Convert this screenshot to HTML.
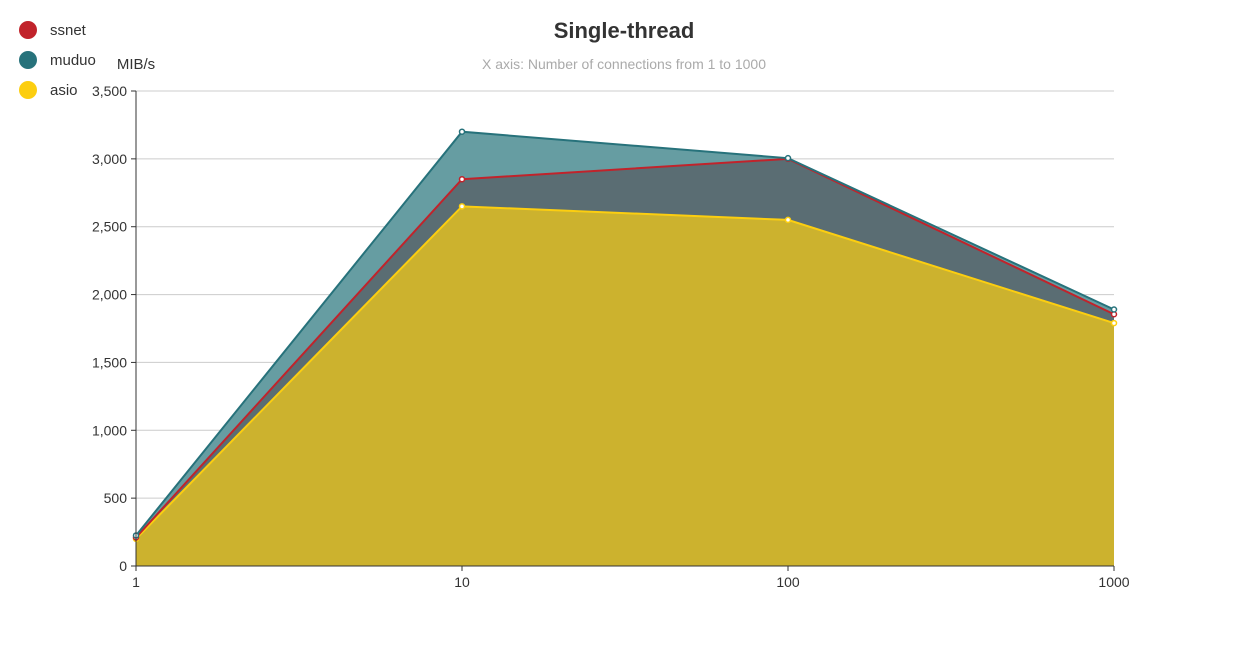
<!DOCTYPE html>
<html><head><meta charset="utf-8"><style>
body{margin:0;background:#fff;font-family:"Liberation Sans",sans-serif}
svg text{font-family:"Liberation Sans",sans-serif}
</style></head><body>
<svg id="c" width="1238" height="659"></svg>
<script>
const categories=["1","10","100","1000"];
const ssnet=[210,2850,3000,1855];
const muduo=[225,3200,3005,1890];
const asio=[200,2650,2550,1790];
const yTicks=[0,500,1000,1500,2000,2500,3000,3500];
const yLabels=["0","500","1,000","1,500","2,000","2,500","3,000","3,500"];
const NS="http://www.w3.org/2000/svg";
const svg=document.getElementById('c');
const X0=136,X1=1114,Y0=566,Y1=91,YMAX=3500;
const xs=i=>X0+(X1-X0)*i/(categories.length-1);
const ys=v=>Y0-(Y0-Y1)*v/YMAX;
function mk(t,a,p){const e=document.createElementNS(NS,t);for(const k in a)e.setAttribute(k,a[k]);(p||svg).appendChild(e);return e;}
function txt(s,a){const e=mk('text',a);e.textContent=s;return e;}
yTicks.forEach((v,i)=>{
 if(v>0){const g=mk('line',{x1:X0,x2:X1,y1:ys(v),y2:ys(v),stroke:'#ccc'});
 
 }
 const tk=mk('line',{x1:X0-5,x2:X0,y1:ys(v),y2:ys(v),stroke:'#333'});
 
 
 const t=txt(yLabels[i],{x:X0-9,y:ys(v)+5,'text-anchor':'end','font-size':14,fill:'#333'});
 
 
});
const series=[{n:'muduo',d:muduo,c:'#27727b',f:'#669da2'},{n:'ssnet',d:ssnet,c:'#c1232b',f:'#5a6d73'},{n:'asio',d:asio,c:'#fcce10',f:'#ccb22e'}];
series.forEach(s=>{
 let pts=s.d.map((v,i)=>xs(i)+','+ys(v)).join(' ');
 const a=mk('polygon',{points:X0+','+Y0+' '+pts+' '+X1+','+Y0,fill:s.f});
 
 
});
series.slice().reverse().forEach(s=>{
 let pts=s.d.map((v,i)=>xs(i)+','+ys(v)).join(' ');
 const l=mk('polyline',{points:pts,fill:'none',stroke:s.c,'stroke-width':2});
 
 
 s.d.forEach((v,i)=>{const p=mk('circle',{cx:xs(i),cy:ys(v),r:2.5,fill:'#fff',stroke:s.c,'stroke-width':1.5});
 
 });
});
const ya=mk('line',{x1:X0,x2:X0,y1:Y1,y2:Y0,stroke:'#333'});


const xa=mk('line',{x1:X0,x2:X1,y1:Y0,y2:Y0,stroke:'#333'});


categories.forEach((c,i)=>{
 const tk=mk('line',{x1:xs(i),x2:xs(i),y1:Y0,y2:Y0+5,stroke:'#333'});
 
 
 const t=txt(c,{x:xs(i),y:Y0+21,'text-anchor':'middle','font-size':14,fill:'#333'});
 
 
});
const yt=txt('MIB/s',{x:136,y:69,'text-anchor':'middle','font-size':15,fill:'#333'});


const tt=txt('Single-thread',{x:624,y:38,'text-anchor':'middle','font-size':22,'font-weight':'bold',fill:'#333'});


const st=txt('X axis: Number of connections from 1 to 1000',{x:624,y:69,'text-anchor':'middle','font-size':14,fill:'#aaa'});


const leg=[{n:'ssnet',c:'#c1232b'},{n:'muduo',c:'#27727b'},{n:'asio',c:'#fcce10'}];
leg.forEach((l,i)=>{
 const g=mk('g',{});
 
 
 mk('circle',{cx:28,cy:30+i*30,r:9,fill:l.c},g);
 const t=mk('text',{x:50,y:35+i*30,'font-size':15,fill:'#333'},g);t.textContent=l.n;
});
</script>
</body></html>
